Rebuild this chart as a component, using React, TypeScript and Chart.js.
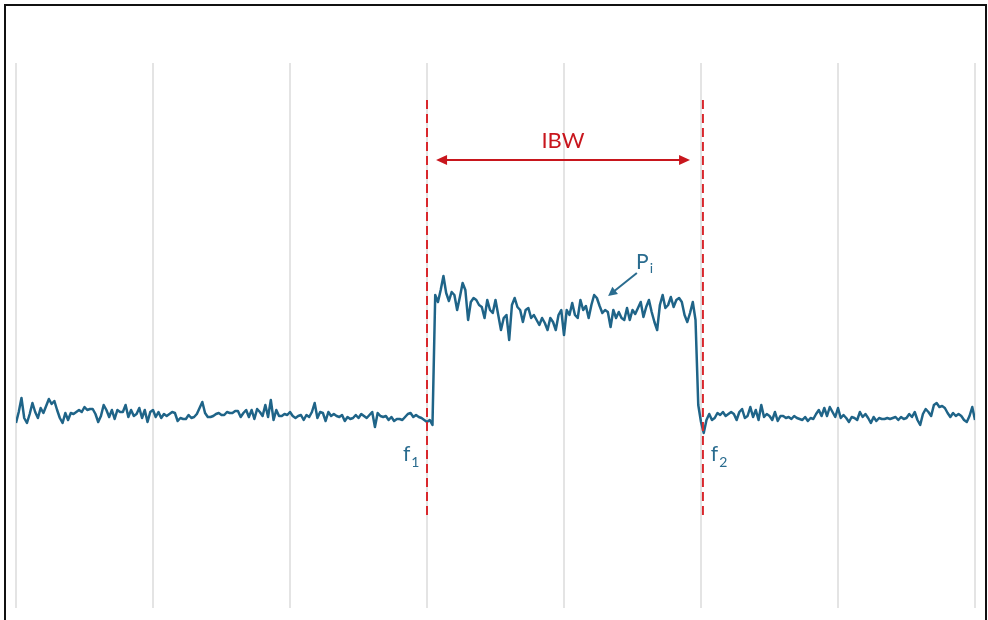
import React, { useEffect, useRef } from "react";
import { Chart, registerables } from "chart.js";

Chart.register(...registerables);

// Measured spectrum power (dBm) per frequency bin, split into three spans.
const powerBelowBand = [
  -83.0, -80.8, -78.0, -82.0, -83.0, -81.2, -79.0, -80.8, -82.0, -80.0,
  -81.0, -79.6, -78.2, -79.2, -78.6, -80.4, -82.0, -83.0, -81.0, -82.4,
  -81.0, -81.2, -80.8, -80.4, -80.8, -79.8, -80.4, -80.2, -80.2, -81.2,
  -82.8, -81.6, -79.4, -80.4, -81.8, -80.4, -82.2, -80.4, -80.8, -80.8,
  -79.4, -81.8, -80.4, -81.6, -81.2, -80.0, -82.0, -80.4, -82.8, -80.8,
  -80.4, -81.8, -80.8, -82.0, -81.2, -81.6, -81.2, -80.8, -81.0, -82.6,
  -82.0, -82.2, -82.2, -81.4, -82.0, -81.8, -81.2, -80.0, -78.8, -81.0,
  -81.8, -81.8, -81.6, -81.2, -81.0, -81.4, -81.4, -80.8, -81.0, -81.0,
  -80.6, -80.6, -81.8, -81.0, -80.4, -81.8, -80.4, -82.2, -80.2, -80.8,
  -81.6, -79.4, -81.8, -78.4, -82.4, -80.4, -81.6, -81.6, -81.2, -81.4,
  -80.8, -81.6, -82.0, -81.6, -81.4, -82.4, -81.4, -81.8, -80.8, -79.0,
  -82.0, -80.8, -81.0, -82.6, -80.8, -81.6, -81.2, -81.6, -81.8, -81.4,
  -82.6, -81.8, -82.2, -82.0, -81.4, -82.0, -81.2, -81.6, -82.0, -81.4,
  -80.8, -83.8, -81.0, -81.6, -81.8, -81.6, -82.4, -81.8, -82.6, -82.2,
  -82.2, -82.4, -81.8, -81.2, -81.0, -81.8, -81.4, -81.8, -82.0, -82.4,
  -82.8, -82.4, -83.4,
];

const powerInBand = [
  -57.4, -58.8, -56.4, -53.6, -57.0, -58.6, -56.8, -57.4, -60.4, -57.8,
  -55.0, -56.4, -62.4, -58.8, -58.0, -58.4, -59.4, -59.8, -62.0, -58.4,
  -60.4, -61.0, -58.4, -61.4, -64.4, -62.0, -61.4, -66.4, -59.4, -58.0,
  -59.8, -60.4, -62.8, -60.4, -60.0, -62.0, -61.4, -62.4, -63.4, -62.0,
  -63.0, -64.4, -62.0, -62.8, -64.4, -61.4, -60.4, -65.4, -60.4, -61.4,
  -59.0, -61.4, -62.0, -58.4, -60.4, -59.6, -62.0, -59.4, -57.4, -58.0,
  -59.6, -61.0, -60.4, -60.8, -63.8, -60.4, -62.0, -60.8, -62.0, -62.4,
  -60.0, -62.4, -60.4, -61.2, -60.0, -58.8, -61.8, -59.8, -58.4, -60.8,
  -62.8, -64.4, -59.4, -57.4, -60.0, -59.4, -57.8, -59.8, -58.4, -58.0,
  -58.8, -61.4, -62.8, -61.0, -58.8, -62.4, -79.4, -82.8, -85.0, -82.4,
];

const powerAboveBand = [
  -81.2, -82.4, -82.0, -81.0, -81.4, -80.8, -81.6, -81.2, -80.8, -81.2,
  -82.4, -80.8, -80.2, -82.0, -81.6, -79.8, -81.8, -80.4, -82.4, -79.4,
  -81.8, -81.2, -81.6, -82.4, -80.8, -82.6, -81.6, -81.6, -82.0, -81.8,
  -82.2, -81.6, -82.0, -82.2, -82.4, -81.8, -82.6, -82.0, -82.2, -81.2,
  -80.4, -81.6, -80.0, -81.6, -79.8, -80.8, -81.8, -80.0, -82.0, -81.4,
  -82.0, -82.8, -81.8, -82.0, -82.4, -80.8, -81.8, -81.2, -82.0, -83.0,
  -81.8, -82.6, -82.0, -82.2, -82.2, -82.0, -82.2, -82.0, -81.8, -82.4,
  -81.8, -82.2, -82.0, -81.2, -81.8, -80.8, -82.4, -83.4, -81.2, -80.2,
  -80.8, -81.6, -79.4, -79.0, -79.8, -79.6, -80.0, -81.0, -81.8, -81.0,
  -81.6, -81.2, -81.6, -82.4, -82.8, -81.6, -79.8, -82.4,
];

const powerDbm = [...powerBelowBand, ...powerInBand, ...powerAboveBand];

// Band edges (frequency bin) and the annotation layout, in axis units.
const f1Bin = 150;
const f2Bin = 250.7;
const edgeTop = -18.4;
const edgeBottom = -101.4;
const ibwFrom = 153.3;
const ibwTo = 246.0;
const ibwLevel = -30.4;

const traceColor = "#1f6488";
const labelBlue = "#2a6c8f";
const edgeRed = "#d9282d";
const ibwRed = "#c8161d";
const fontFamily = "Lato, 'Open Sans', sans-serif";

function arrowHead(ctx: CanvasRenderingContext2D, x: number, y: number, angle: number, len: number, half: number) {
  ctx.save();
  ctx.translate(x, y);
  ctx.rotate(angle);
  ctx.beginPath();
  ctx.moveTo(0, 0);
  ctx.lineTo(-len, -half);
  ctx.lineTo(-len, half);
  ctx.closePath();
  ctx.fill();
  ctx.restore();
}

const bandAnnotations = {
  id: "bandAnnotations",
  afterDatasetsDraw(chart: any) {
    const { ctx } = chart;
    const xs = chart.scales.x;
    const ys = chart.scales.y;
    const px = (v: number) => xs.getPixelForValue(v);
    const py = (v: number) => ys.getPixelForValue(v);
    ctx.save();

    // dashed band-edge markers
    ctx.strokeStyle = edgeRed;
    ctx.lineWidth = 2;
    ctx.setLineDash([9, 5]);
    for (const b of [f1Bin, f2Bin]) {
      ctx.beginPath();
      ctx.moveTo(px(b), py(edgeTop));
      ctx.lineTo(px(b), py(edgeBottom));
      ctx.stroke();
    }
    ctx.setLineDash([]);

    // IBW double arrow
    const ax1 = px(ibwFrom);
    const ax2 = px(ibwTo);
    const ay = py(ibwLevel);
    ctx.strokeStyle = ibwRed;
    ctx.fillStyle = ibwRed;
    ctx.lineWidth = 2;
    ctx.beginPath();
    ctx.moveTo(ax1 + 8, ay);
    ctx.lineTo(ax2 - 8, ay);
    ctx.stroke();
    arrowHead(ctx, ax1, ay, Math.PI, 11, 5);
    arrowHead(ctx, ax2, ay, 0, 11, 5);

    ctx.font = `22px ${fontFamily}`;
    ctx.textAlign = "center";
    ctx.textBaseline = "alphabetic";
    ctx.fillText("IBW", px(199.6), py(-27.6) + 2);

    // P_i label with pointer
    ctx.fillStyle = labelBlue;
    ctx.strokeStyle = labelBlue;
    ctx.textAlign = "left";
    const pX = px(226.3);
    const pY = py(-52.2);
    ctx.font = `21px ${fontFamily}`;
    ctx.fillText("P", pX, pY);
    const pW = ctx.measureText("P").width;
    ctx.font = `14px ${fontFamily}`;
    ctx.fillText("i", pX + pW + 1, pY + 4);

    const tx = px(226.6);
    const ty = py(-53.0);
    const hx = px(216.1);
    const hy = py(-57.6);
    const ang = Math.atan2(hy - ty, hx - tx);
    ctx.lineWidth = 2;
    ctx.beginPath();
    ctx.moveTo(tx, ty);
    ctx.lineTo(hx - Math.cos(ang) * 6, hy - Math.sin(ang) * 6);
    ctx.stroke();
    arrowHead(ctx, hx, hy, ang, 9, 4.5);

    // f1 / f2 labels
    const edgeLabel = (bin: number, sub: string) => {
      const x = px(bin);
      const y = py(-90.6);
      ctx.font = `21px ${fontFamily}`;
      ctx.fillText("f", x, y);
      const w = ctx.measureText("f").width;
      ctx.font = `14px ${fontFamily}`;
      ctx.fillText(sub, x + w + 1, y + 6);
    };
    edgeLabel(141.2, "1");
    edgeLabel(253.6, "2");

    ctx.restore();
  },
};

export default function App() {
  const canvasRef = useRef<HTMLCanvasElement | null>(null);

  useEffect(() => {
    const canvas = canvasRef.current;
    if (!canvas) return;
    const chart = new Chart(canvas, {
      type: "line",
      data: {
        datasets: [
          {
            data: powerDbm.map((v, i) => ({ x: i, y: v })),
            borderColor: traceColor,
            borderWidth: 2.5,
            borderJoinStyle: "round",
            pointRadius: 0,
            tension: 0,
            fill: false,
          },
        ],
      },
      options: {
        animation: false,
        responsive: false,
        devicePixelRatio: 1,
        layout: { padding: { left: 16, right: 13, top: 63, bottom: 12 } },
        plugins: {
          legend: { display: false },
          tooltip: { enabled: false },
        },
        scales: {
          x: {
            type: "linear",
            min: 0,
            max: 350,
            ticks: { display: false, stepSize: 50 },
            grid: { color: "#e4e4e4", lineWidth: 2, drawTicks: false },
            border: { display: false },
          },
          y: {
            type: "linear",
            min: -120,
            max: -11,
            display: false,
          },
        },
      },
      plugins: [bandAnnotations],
    });
    return () => chart.destroy();
  }, []);

  return (
    <div
      style={{
        position: "fixed",
        left: 0,
        top: 0,
        width: 988,
        height: 620,
        overflow: "hidden",
        background: "#ffffff",
      }}
    >
      <canvas ref={canvasRef} width={988} height={620} style={{ position: "absolute", left: 0, top: 0 }} />
      <div
        style={{
          position: "absolute",
          left: 4,
          top: 4,
          width: 979,
          height: 700,
          border: "2px solid #111",
          pointerEvents: "none",
        }}
      />
    </div>
  );
}
